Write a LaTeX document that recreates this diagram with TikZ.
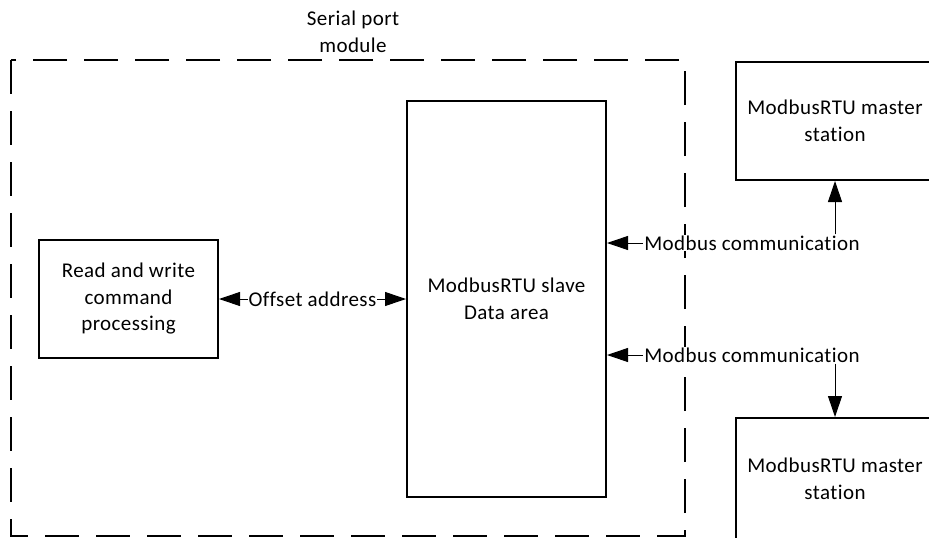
\documentclass[tikz,border=0pt]{standalone}
\usepackage{fontspec}
\setmainfont{Carlito}[LetterSpace=2,Ligatures={NoCommon}]
\usetikzlibrary{arrows.meta}
\tikzset{
  blk/.style={draw, line width=2pt, minimum width=#1, inner sep=0pt, align=center},
  lbl/.style={inner sep=1pt, fill=white, font=\fontsize{21pt}{26.5pt}\selectfont},
  conn/.style={line width=1pt, -{Triangle[length=21pt,width=14pt]}},
  frame/.style={draw, line width=2pt, dash pattern=on 34pt off 17pt},
}
\begin{document}
\begin{tikzpicture}[x=1pt, y=-1pt, font=\fontsize{21pt}{26.5pt}\selectfont]
\useasboundingbox (0,0) rectangle (929,538);
\clip (0,0) rectangle (929,538);
% dashed frame
\draw[frame] (11,60) rectangle (685,536);
\node[align=center, inner sep=0pt] (title) at (353,32) {Serial port\\module};
% blocks
\node[blk=179pt, minimum height=118pt] (rw) at (128.5,299) {Read and write\\command\\processing};
\node[blk=199pt, minimum height=396pt] (slave) at (506.5,299) {ModbusRTU slave\\Data area};
\node[blk=198pt, minimum height=118pt] (m1) at (835,121) {ModbusRTU master\\station};
\node[blk=198pt, minimum height=122pt] (m2) at (835,479) {ModbusRTU master\\station};
% labels
\node[lbl] (c1) at (752,243) {Modbus communication};
\node[lbl] (c2) at (752,355) {Modbus communication};
% connectors
\draw[line width=1pt, {Triangle[length=21pt,width=14pt]}-{Triangle[length=21pt,width=14pt]}] (rw.east) -- (slave.west) node[lbl, midway] (off) {Offset address};
\draw[conn] (c1.west) -- (c1.west -| slave.east);
\draw[conn] (c2.west) -- (c2.west -| slave.east);
\draw[conn] (c1.north -| m1.south) -- (m1.south);
\draw[conn] (c2.south -| m2.north) -- (m2.north);
\end{tikzpicture}
\end{document}
